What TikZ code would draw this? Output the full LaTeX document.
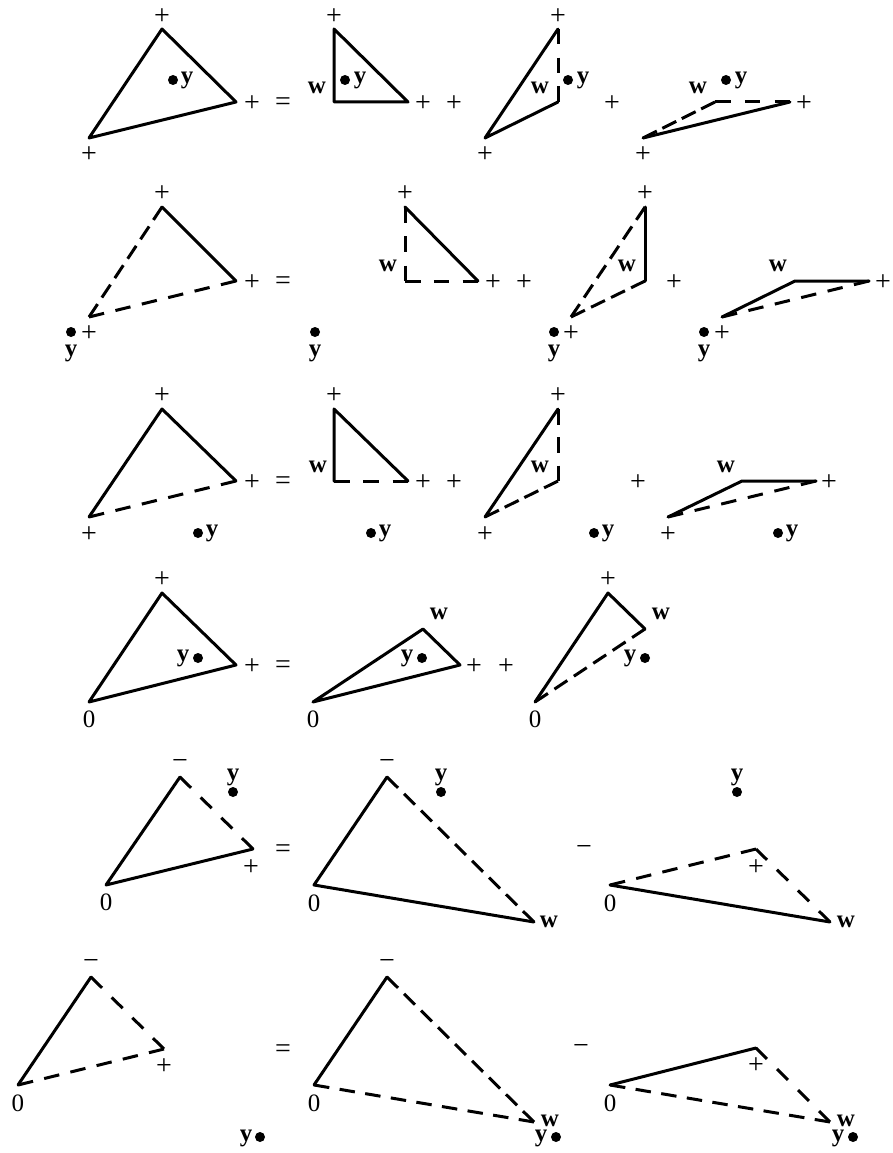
\documentclass[tikz,border=0pt]{standalone}
\usepackage{fontspec}
\usetikzlibrary{calc}
\setmainfont{Liberation Serif}
\tikzset{
  sym/.style={inner sep=0pt,outer sep=0pt,yshift=-2pt,font=\fontsize{28}{28}\selectfont},
  zer/.style={inner sep=0pt,outer sep=0pt,yshift=-1.5pt,font=\fontsize{25}{25}\selectfont},
  bld/.style={inner sep=0pt,outer sep=0pt,yshift=-1pt,font=\fontsize{25}{25}\selectfont\bfseries},
  ylab/.style={bld,yshift=-1pt},
  pt/.style={circle,fill=black,inner sep=0pt,outer sep=0pt,minimum size=10pt},
  sol/.style={line width=3pt,line cap=round,line join=round},
  das/.style={line width=3pt}
}
% dashed edge with a dash at both ends: the gap is fitted to the edge length
\newcommand{\dedge}[2]{%
  \path let \p1=($(#2)-(#1)$), \n1={veclen(\x1,\y1)} in \pgfextra{%
    \pgfmathsetmacro\dcount{floor((\n1+20pt)/25pt)}%
    \pgfmathsetmacro\dgap{(\n1-\dcount*15.5pt)/(\dcount-1)}%
    \draw[das,dash pattern=on 15.5pt off \dgap pt] (#1) -- (#2);%
  };}
\begin{document}
\begin{tikzpicture}[x=1pt,y=-1pt]
\useasboundingbox (0,0) rectangle (892,1153);
% ---------- row 1
\coordinate (aA) at (162,29); \coordinate (aB) at (236,102); \coordinate (aC) at (89,138);
\draw[sol] (aA) -- (aB) -- (aC) -- cycle;
\node[sym] (ap1) at (162,15) {+}; \node[sym] (ap2) at (252,102) {+}; \node[sym] (ap3) at (89,153) {+};
\node[pt] (ad) at (173,80) {}; \node[ylab] (ay) at (187,78) {y};
\node[sym] (aeq) at (283,102) {=};
\coordinate (bA) at (334,29); \coordinate (bB) at (408,102); \coordinate (bC) at (334,102);
\draw[sol] (bA) -- (bB) -- (bC) -- cycle;
\node[sym] (bp1) at (334,15) {+}; \node[sym] (bp2) at (423,102) {+}; \node[bld] (bw) at (317,87) {w};
\node[pt] (bd) at (345,80) {}; \node[ylab] (by) at (360,78) {y};
\node[sym] (bplus) at (454,102) {+};
\coordinate (cA) at (558,29); \coordinate (cB) at (558,102); \coordinate (cC) at (485,138);
\draw[sol] (cB) -- (cC) -- (cA);
\dedge{cA}{cB}
\node[sym] (cp1) at (558,15) {+}; \node[sym] (cp2) at (485,153) {+}; \node[bld] (cw) at (540,87) {w};
\node[pt] (cd) at (568,80) {}; \node[ylab] (cy) at (583,78) {y};
\node[sym] (cplus) at (612,102) {+};
\coordinate (dA) at (715,102); \coordinate (dB) at (790,102); \coordinate (dC) at (643,138);
\draw[sol] (dC) -- (dB);
\dedge{dC}{dA} \dedge{dA}{dB}
\node[sym] (dp1) at (804,102) {+}; \node[sym] (dp2) at (643,153) {+}; \node[bld] (dw) at (698,87) {w};
\node[pt] (dd) at (726,80) {}; \node[ylab] (dy) at (741,78) {y};
% ---------- row 2
\coordinate (eA) at (162,207); \coordinate (eB) at (236,281); \coordinate (eC) at (89,317);
\draw[sol] (eA) -- (eB);
\dedge{eA}{eC} \dedge{eC}{eB}
\node[sym] (ep1) at (162,192) {+}; \node[sym] (ep2) at (252,281) {+}; \node[sym] (ep3) at (89,332) {+};
\node[pt] (ed) at (71,332) {}; \node[ylab] (ey) at (71,351) {y};
\node[sym] (eeq) at (283,281) {=};
\coordinate (fA) at (405,207); \coordinate (fB) at (478,281); \coordinate (fC) at (405,281);
\draw[sol] (fA) -- (fB);
\dedge{fA}{fC} \dedge{fC}{fB}
\node[sym] (fp1) at (405,192) {+}; \node[sym] (fp2) at (493,281) {+}; \node[bld] (fw) at (388,265) {w};
\node[pt] (fd) at (315,332) {}; \node[ylab] (fy) at (315,351) {y};
\node[sym] (fplus) at (524,281) {+};
\coordinate (gA) at (645,207); \coordinate (gB) at (645,281); \coordinate (gC) at (571,317);
\draw[sol] (gA) -- (gB);
\dedge{gA}{gC} \dedge{gC}{gB}
\node[sym] (gp1) at (645,192) {+}; \node[sym] (gp2) at (571,332) {+}; \node[bld] (gw) at (627,265) {w};
\node[pt] (gd) at (554,332) {}; \node[ylab] (gy) at (554,351) {y};
\node[sym] (gplus) at (674,281) {+};
\coordinate (hA) at (795,281); \coordinate (hB) at (869,281); \coordinate (hC) at (722,317);
\draw[sol] (hC) -- (hA) -- (hB);
\dedge{hC}{hB}
\node[sym] (hp1) at (883,281) {+}; \node[sym] (hp2) at (722,332) {+}; \node[bld] (hw) at (778,265) {w};
\node[pt] (hd) at (704,332) {}; \node[ylab] (hy) at (704,351) {y};
% ---------- row 3
\coordinate (iA) at (162,409); \coordinate (iB) at (236,481); \coordinate (iC) at (89,517);
\draw[sol] (iB) -- (iA) -- (iC);
\dedge{iC}{iB}
\node[sym] (ip1) at (162,394) {+}; \node[sym] (ip2) at (252,481) {+}; \node[sym] (ip3) at (89,533) {+};
\node[pt] (id) at (198,533) {}; \node[ylab] (iy) at (212,531) {y};
\node[sym] (ieq) at (283,481) {=};
\coordinate (jA) at (334,409); \coordinate (jB) at (408,481); \coordinate (jC) at (334,481);
\draw[sol] (jB) -- (jA) -- (jC);
\dedge{jC}{jB}
\node[sym] (jp1) at (334,394) {+}; \node[sym] (jp2) at (423,481) {+}; \node[bld] (jw) at (318,466) {w};
\node[pt] (jd) at (371,533) {}; \node[ylab] (jy) at (385,531) {y};
\node[sym] (jplus) at (454,481) {+};
\coordinate (kA) at (558,409); \coordinate (kB) at (558,481); \coordinate (kC) at (485,517);
\draw[sol] (kA) -- (kC);
\dedge{kA}{kB} \dedge{kC}{kB}
\node[sym] (kp1) at (558,394) {+}; \node[sym] (kp2) at (485,533) {+}; \node[bld] (kw) at (540,466) {w};
\node[pt] (kd) at (594,533) {}; \node[ylab] (ky) at (608,531) {y};
\node[sym] (kplus) at (638,481) {+};
\coordinate (lA) at (742,481); \coordinate (lB) at (816,481); \coordinate (lC) at (668,517);
\draw[sol] (lC) -- (lA) -- (lB);
\dedge{lC}{lB}
\node[sym] (lp1) at (829,481) {+}; \node[sym] (lp2) at (668,533) {+}; \node[bld] (lw) at (726,466) {w};
\node[pt] (ld) at (778,533) {}; \node[ylab] (ly) at (792,531) {y};
% ---------- row 4
\coordinate (mA) at (162,593); \coordinate (mB) at (236,665); \coordinate (mC) at (89,702);
\draw[sol] (mA) -- (mB) -- (mC) -- cycle;
\node[sym] (mp1) at (162,578) {+}; \node[sym] (mp2) at (252,665) {+}; \node[zer] (mz) at (89,718) {0};
\node[pt] (md) at (198,658) {}; \node[ylab] (my) at (183,656) {y};
\node[sym] (meq) at (283,665) {=};
\coordinate (nA) at (423,629); \coordinate (nB) at (460,665); \coordinate (nC) at (313,702);
\draw[sol] (nA) -- (nB) -- (nC) -- cycle;
\node[sym] (np2) at (474,665) {+}; \node[zer] (nz) at (313,718) {0}; \node[bld] (nw) at (439,613) {w};
\node[pt] (nd) at (422,658) {}; \node[ylab] (ny) at (407,656) {y};
\node[sym] (nplus) at (506,665) {+};
\coordinate (oA) at (608,593); \coordinate (oB) at (645,629); \coordinate (oC) at (535,702);
\draw[sol] (oB) -- (oA) -- (oC);
\dedge{oC}{oB}
\node[sym] (op1) at (608,578) {+}; \node[zer] (oz) at (535,718) {0}; \node[bld] (ow) at (661,613) {w};
\node[pt] (od) at (645,658) {}; \node[ylab] (oy) at (630,656) {y};
% ---------- row 5
\coordinate (pA) at (180,777); \coordinate (pB) at (253,849); \coordinate (pC) at (106,885);
\draw[sol] (pA) -- (pC) -- (pB);
\dedge{pA}{pB}
\node[sym] (pm) at (180,762) {−}; \node[sym] (pp) at (251,866) {+}; \node[zer] (pz) at (106,901) {0};
\node[pt] (pd) at (233,792) {}; \node[ylab] (py) at (233,775) {y};
\node[sym] (peq) at (283,849) {=};
\coordinate (qA) at (387,777); \coordinate (qB) at (534,922); \coordinate (qC) at (314,885);
\draw[sol] (qA) -- (qC) -- (qB);
\dedge{qA}{qB}
\node[sym] (qm) at (387,762) {−}; \node[zer] (qz) at (314,902) {0}; \node[bld] (qw) at (549,921) {w};
\node[pt] (qd) at (441,792) {}; \node[ylab] (qy) at (441,775) {y};
\node[sym] (qminus) at (584,848) {−};
\coordinate (rA) at (756,849); \coordinate (rB) at (830,922); \coordinate (rC) at (610,885);
\draw[sol] (rC) -- (rB);
\dedge{rC}{rA} \dedge{rA}{rB}
\node[sym] (rp) at (756,866) {+}; \node[zer] (rz) at (610,902) {0}; \node[bld] (rw) at (846,921) {w};
\node[pt] (rd) at (737,792) {}; \node[ylab] (ry) at (737,775) {y};
% ---------- row 6
\coordinate (sA) at (91,977); \coordinate (sB) at (164,1049); \coordinate (sC) at (18,1085);
\draw[sol] (sA) -- (sC);
\dedge{sA}{sB} \dedge{sC}{sB}
\node[sym] (sm) at (91,962) {−}; \node[sym] (sp) at (164,1065) {+}; \node[zer] (sz) at (18,1102) {0};
\node[pt] (sd) at (260,1137) {}; \node[ylab] (sy) at (246,1136) {y};
\node[sym] (seq) at (283,1049) {=};
\coordinate (tA) at (387,977); \coordinate (tB) at (534,1122); \coordinate (tC) at (314,1085);
\draw[sol] (tA) -- (tC);
\dedge{tA}{tB} \dedge{tC}{tB}
\node[sym] (tm) at (387,962) {−}; \node[zer] (tz) at (314,1102) {0}; \node[bld] (tw) at (550,1120) {w};
\node[pt] (td) at (556,1137) {}; \node[ylab] (ty) at (541,1136) {y};
\node[sym] (tminus) at (581,1047) {−};
\coordinate (uA) at (756,1048); \coordinate (uB) at (830,1122); \coordinate (uC) at (610,1085);
\draw[sol] (uC) -- (uA);
\dedge{uA}{uB} \dedge{uC}{uB}
\node[sym] (up) at (756,1064) {+}; \node[zer] (uz) at (610,1102) {0}; \node[bld] (uw) at (846,1120) {w};
\node[pt] (ud) at (853,1137) {}; \node[ylab] (uy) at (838,1136) {y};
\end{tikzpicture}
\end{document}
